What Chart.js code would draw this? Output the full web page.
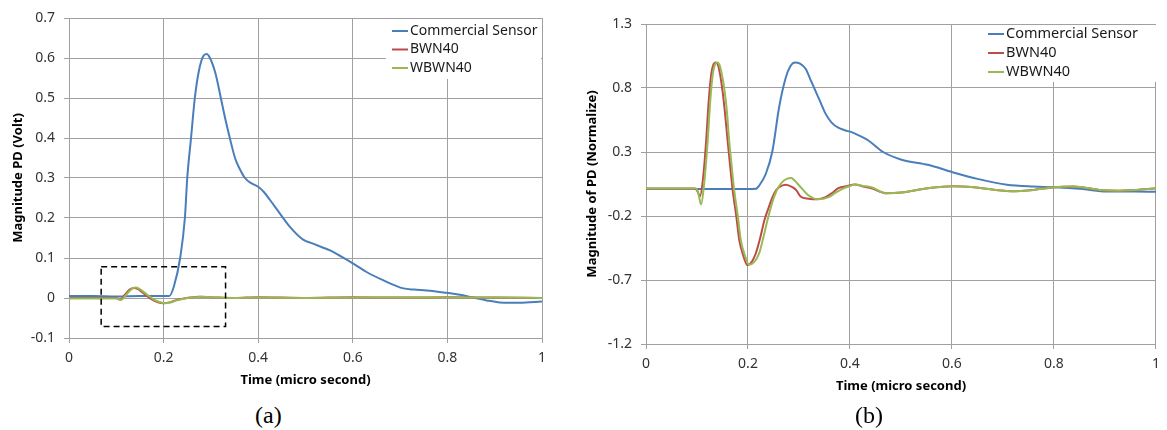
<!DOCTYPE html>
<html>
<head>
<meta charset="utf-8">
<script src="https://cdn.jsdelivr.net/npm/chart.js@4.4.0/dist/chart.umd.min.js"></script>
<style>
  body { margin: 0; background: #fff; width: 1167px; height: 430px; position: relative; overflow: hidden; }
  canvas { display: block; }
  #wrapA { position: absolute; left: 0; top: 0; }
  #wrapB { position: absolute; left: 580px; top: 0; }
  .caption { position: absolute; top: 403px; line-height: 24px; font-family: 'Liberation Serif', 'Times New Roman', serif; font-size: 24px; color: #000; }
</style>
</head>
<body>
<div id="wrapA"><canvas id="chartA" width="580" height="400"></canvas></div>
<div id="wrapB"><canvas id="chartB" width="587" height="406"></canvas></div>
<div class="caption" style="left:255px">(a)</div>
<div class="caption" style="left:855px">(b)</div>
<script>
// ---- data ----
const seriesNames = ['Commercial Sensor', 'BWN40', 'WBWN40'];

const xTicks = [0, 0.2, 0.4, 0.6, 0.8, 1];
const xTickLabels = ['0', '0.2', '0.4', '0.6', '0.8', '1'];
const yTicksA = [-0.1, 0, 0.1, 0.2, 0.3, 0.4, 0.5, 0.6, 0.7];
const yTickLabelsA = ['-0.1', '0', '0.1', '0.2', '0.3', '0.4', '0.5', '0.6', '0.7'];
const yTicksB = [-1.2, -0.7, -0.2, 0.3, 0.8, 1.3];
const yTickLabelsB = ['-1.2', '-0.7', '-0.2', '0.3', '0.8', '1.3'];

// (a) Magnitude PD (Volt)
const sensorA_t = [0, 0.05, 0.1, 0.15, 0.2, 0.212, 0.222, 0.235, 0.245, 0.25, 0.258, 0.266, 0.275, 0.284, 0.291, 0.298, 0.31, 0.321, 0.33, 0.34, 0.351, 0.36, 0.372, 0.385, 0.4, 0.412, 0.425, 0.446, 0.467, 0.495, 0.516, 0.535, 0.552, 0.575, 0.601, 0.629, 0.665, 0.707, 0.73, 0.756, 0.798, 0.827, 0.855, 0.883, 0.911, 0.953, 1.0];
const sensorA_v = [0.005, 0.005, 0.004, 0.005, 0.005, 0.005, 0.03, 0.1, 0.2, 0.3, 0.4, 0.5, 0.57, 0.605, 0.61, 0.6, 0.56, 0.5, 0.45, 0.4, 0.35, 0.325, 0.3, 0.287, 0.278, 0.265, 0.245, 0.211, 0.178, 0.146, 0.136, 0.127, 0.119, 0.104, 0.086, 0.065, 0.044, 0.024, 0.021, 0.019, 0.013, 0.008, 0.001, -0.006, -0.011, -0.012, -0.009];
const bwnA_t = [0, 0.05, 0.1, 0.108, 0.118, 0.128, 0.137, 0.146, 0.156, 0.166, 0.177, 0.188, 0.2, 0.212, 0.225, 0.24, 0.256, 0.275, 0.3, 0.35, 0.4, 0.5, 0.6, 0.7, 0.8, 0.9, 1.0];
const bwnA_v = [0, 0, 0, -0.004, 0.008, 0.021, 0.025, 0.022, 0.013, 0.004, -0.005, -0.011, -0.013, -0.011, -0.006, -0.002, 0.001, 0.003, 0.002, 0, 0.002, 0, 0.002, 0.001, 0.002, 0.001, 0];
const wbwnA_t = [0, 0.05, 0.1, 0.11, 0.12, 0.131, 0.14, 0.149, 0.159, 0.169, 0.18, 0.191, 0.202, 0.215, 0.228, 0.243, 0.26, 0.28, 0.3, 0.35, 0.4, 0.5, 0.6, 0.7, 0.8, 0.9, 1.0];
const wbwnA_v = [-0.001, -0.001, -0.001, -0.005, 0.007, 0.021, 0.026, 0.023, 0.014, 0.005, -0.004, -0.01, -0.013, -0.011, -0.006, -0.002, 0.001, 0.003, 0.002, 0, 0.001, 0, 0.001, 0.001, 0.001, 0.001, 0];
// dashed box around the small pulses in (a)
const boxA_t = [0.068, 0.331, 0.331, 0.068, 0.068];
const boxA_v = [0.078, 0.078, -0.071, -0.071, 0.078];

// (b) Magnitude of PD (Normalize)
const sensorB_t = [0, 0.1, 0.2, 0.215, 0.222, 0.235, 0.248, 0.261, 0.274, 0.283, 0.292, 0.302, 0.313, 0.322, 0.332, 0.342, 0.352, 0.364, 0.377, 0.39, 0.403, 0.417, 0.436, 0.465, 0.501, 0.553, 0.601, 0.65, 0.708, 0.76, 0.8, 0.857, 0.903, 0.955, 1.0];
const sensorB_v = [0.01, 0.01, 0.01, 0.012, 0.038, 0.13, 0.31, 0.65, 0.88, 0.97, 1.0, 0.99, 0.95, 0.87, 0.78, 0.69, 0.6, 0.53, 0.49, 0.47, 0.455, 0.43, 0.39, 0.3, 0.24, 0.2, 0.142, 0.09, 0.044, 0.03, 0.025, 0.01, -0.009, -0.009, -0.01];
const bwnB_t = [0, 0.05, 0.095, 0.1, 0.106, 0.112, 0.118, 0.123, 0.128, 0.133, 0.137, 0.142, 0.15, 0.155, 0.16, 0.165, 0.17, 0.177, 0.183, 0.19, 0.199, 0.207, 0.215, 0.224, 0.232, 0.24, 0.248, 0.255, 0.261, 0.274, 0.287, 0.295, 0.303, 0.319, 0.335, 0.352, 0.365, 0.377, 0.395, 0.41, 0.425, 0.442, 0.471, 0.501, 0.553, 0.601, 0.643, 0.715, 0.76, 0.8, 0.838, 0.889, 0.928, 1.0];
const bwnB_v = [0.015, 0.015, 0.015, 0.0, -0.045, 0.1, 0.39, 0.7, 0.91, 0.99, 1.0, 0.97, 0.78, 0.6, 0.39, 0.19, 0.0, -0.2, -0.39, -0.5, -0.585, -0.56, -0.495, -0.37, -0.235, -0.14, -0.053, 0.0, 0.025, 0.044, 0.025, 0.0, -0.047, -0.065, -0.07, -0.053, -0.02, 0.017, 0.035, 0.046, 0.03, 0.017, -0.022, -0.016, 0.017, 0.033, 0.025, -0.006, 0.004, 0.025, 0.03, 0.004, -0.002, 0.017];
const wbwnB_t = [0, 0.05, 0.098, 0.103, 0.108, 0.114, 0.121, 0.126, 0.131, 0.136, 0.14, 0.145, 0.154, 0.159, 0.163, 0.168, 0.173, 0.18, 0.186, 0.194, 0.202, 0.212, 0.222, 0.23, 0.238, 0.245, 0.251, 0.259, 0.267, 0.276, 0.285, 0.292, 0.3, 0.319, 0.338, 0.358, 0.371, 0.384, 0.397, 0.41, 0.425, 0.442, 0.471, 0.501, 0.553, 0.601, 0.643, 0.715, 0.76, 0.8, 0.838, 0.889, 0.928, 1.0];
const wbwnB_v = [0.015, 0.015, 0.015, -0.03, -0.11, 0.05, 0.39, 0.7, 0.91, 0.99, 1.0, 0.97, 0.78, 0.6, 0.39, 0.19, 0.0, -0.2, -0.39, -0.51, -0.58, -0.56, -0.49, -0.37, -0.235, -0.13, -0.053, 0.02, 0.065, 0.09, 0.096, 0.075, 0.04, -0.04, -0.07, -0.053, -0.02, 0.01, 0.03, 0.046, 0.035, 0.025, -0.022, -0.016, 0.017, 0.033, 0.025, -0.006, 0.004, 0.025, 0.03, 0.004, -0.002, 0.017];

// ---- styling ----
const FONT = "'Noto Sans', 'DejaVu Sans', sans-serif";
const BLUE = '#4a7ebb', RED = '#be4b48', GREEN = '#98b954';
const GRID = '#a0a0a0';
const TICK_COLOR = '#333333';

function pts(t, v) {
  return t.map((x, i) => ({ x: x, y: v[i] }));
}

function lineSet(label, t, v, color, order) {
  return {
    label: label,
    data: pts(t, v),
    showLine: true,
    borderColor: color,
    backgroundColor: color,
    borderWidth: 2,
    pointRadius: 0,
    cubicInterpolationMode: 'monotone',
    order: order
  };
}

// legend drawn inside the plot, on a white box, like the original
const boxLegend = {
  id: 'boxLegend',
  afterDraw(chart, args, opts) {
    const ctx = chart.ctx;
    ctx.save();
    ctx.fillStyle = '#fff';
    ctx.fillRect(opts.boxX, opts.boxY, opts.boxW, opts.boxH);
    ctx.font = opts.fontSize + 'px ' + FONT;
    ctx.textBaseline = 'middle';
    ctx.textAlign = 'left';
    let row = 0;
    chart.data.datasets.forEach(ds => {
      if (!seriesNames.includes(ds.label)) return;
      const cy = opts.firstRow + row * opts.rowH;
      ctx.strokeStyle = ds.borderColor;
      ctx.lineWidth = 2;
      ctx.beginPath();
      ctx.moveTo(opts.lineX, cy);
      ctx.lineTo(opts.lineX + opts.lineLen, cy);
      ctx.stroke();
      ctx.fillStyle = '#1a1a1a';
      ctx.fillText(ds.label, opts.lineX + opts.lineLen + 2, cy);
      row++;
    });
    ctx.restore();
  }
};

function makeScales(yMin, yMax, yTicks, yLabels, yTitle, yWidth, yTitlePad) {
  return {
    x: {
      type: 'linear',
      min: 0,
      max: 1,
      afterBuildTicks: s => { s.ticks = xTicks.map(v => ({ value: v })); },
      afterFit: s => { s.height = 62; },
      grid: { color: GRID, tickLength: 5 },
      border: { color: GRID },
      ticks: {
        autoSkip: false, maxRotation: 0, padding: 7, color: TICK_COLOR,
        font: { family: FONT, size: 14 },
        callback: (v, i) => xTickLabels[i]
      },
      title: {
        display: true, text: 'Time (micro second)', color: '#000',
        font: { family: FONT, size: 13, weight: 'bold' },
        padding: { top: 0, bottom: 12 }
      }
    },
    y: {
      type: 'linear',
      min: yMin,
      max: yMax,
      afterBuildTicks: s => { s.ticks = yTicks.map(v => ({ value: v })); },
      afterFit: s => { s.width = yWidth; },
      grid: { color: GRID, tickLength: 5 },
      border: { color: GRID },
      ticks: {
        autoSkip: false, padding: 9, color: TICK_COLOR,
        font: { family: FONT, size: 14 },
        callback: (v, i) => yLabels[i]
      },
      title: {
        display: true, text: yTitle, color: '#000',
        font: { family: FONT, size: 13, weight: 'bold' },
        padding: { top: yTitlePad, bottom: 0 }
      }
    }
  };
}

// ---- chart (a) ----
new Chart(document.getElementById('chartA'), {
  type: 'scatter',
  data: {
    datasets: [
      lineSet(seriesNames[0], sensorA_t, sensorA_v, BLUE, 3),
      lineSet(seriesNames[1], bwnA_t, bwnA_v, RED, 2),
      lineSet(seriesNames[2], wbwnA_t, wbwnA_v, GREEN, 1),
      {
        label: 'box',
        data: pts(boxA_t, boxA_v),
        showLine: true,
        borderColor: '#000',
        borderWidth: 1.5,
        borderDash: [6, 4],
        pointRadius: 0,
        tension: 0,
        order: 0
      }
    ]
  },
  options: {
    responsive: false,
    animation: false,
    devicePixelRatio: 1,
    layout: { padding: { left: 0, top: 18, right: 38, bottom: 0 } },
    plugins: {
      legend: { display: false },
      tooltip: { enabled: false },
      boxLegend: { boxX: 386, boxY: 19, boxW: 155, boxH: 60, lineX: 392, lineLen: 16, firstRow: 31, rowH: 18.5, fontSize: 14 }
    },
    scales: makeScales(-0.1, 0.7, yTicksA, yTickLabelsA, 'Magnitude PD (Volt)', 69, 10)
  },
  plugins: [boxLegend]
});

// ---- chart (b) ----
new Chart(document.getElementById('chartB'), {
  type: 'scatter',
  data: {
    datasets: [
      lineSet(seriesNames[0], sensorB_t, sensorB_v, BLUE, 3),
      lineSet(seriesNames[1], bwnB_t, bwnB_v, RED, 2),
      lineSet(seriesNames[2], wbwnB_t, wbwnB_v, GREEN, 1)
    ]
  },
  options: {
    responsive: false,
    animation: false,
    devicePixelRatio: 1,
    layout: { padding: { left: 0, top: 24, right: 7, bottom: 0 } },
    plugins: {
      legend: { display: false },
      tooltip: { enabled: false },
      boxLegend: { boxX: 405, boxY: 25, boxW: 173, boxH: 57, lineX: 408, lineLen: 16, firstRow: 34, rowH: 19, fontSize: 14.5 }
    },
    scales: makeScales(-1.2, 1.3, yTicksB, yTickLabelsB, 'Magnitude of PD (Normalize)', 66, 4)
  },
  plugins: [boxLegend]
});
</script>
</body>
</html>
